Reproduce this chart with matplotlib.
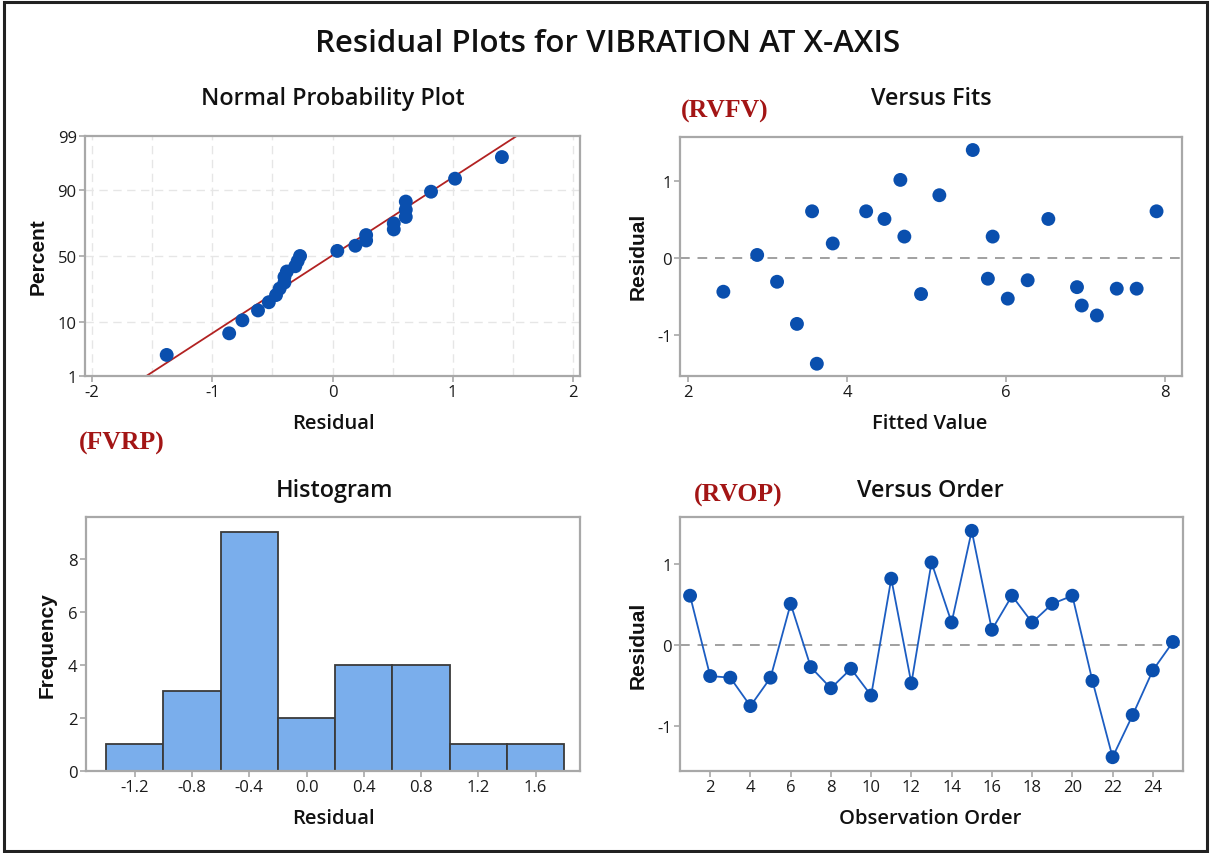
import matplotlib
matplotlib.use("Agg")
import matplotlib.pyplot as plt
import numpy as np
from statistics import NormalDist
from matplotlib.patches import Rectangle

# ---------------- data ----------------
observation_order = list(range(1, 26))
residuals = [0.61, -0.38, -0.40, -0.75, -0.40, 0.51, -0.27, -0.53, -0.29, -0.62,
             0.82, -0.47, 1.02, 0.28, 1.41, 0.19, 0.61, 0.28, 0.51, 0.61,
             -0.44, -1.38, -0.86, -0.31, 0.04]
fitted_values = [7.89, 6.89, 7.39, 7.14, 7.64, 6.53, 5.77, 6.02, 6.27, 6.95,
                 5.16, 4.93, 4.67, 5.83, 5.58, 3.82, 4.24, 4.72, 4.47, 3.56,
                 2.445, 3.62, 3.37, 3.12, 2.87]
hist_bin_edges = [-1.4, -1.0, -0.6, -0.2, 0.2, 0.6, 1.0, 1.4, 1.8]
percent_ticks = [1, 10, 50, 90, 99]
percent_grid = [10, 50, 90]
hist_xticks = [-1.2, -0.8, -0.4, 0.0, 0.4, 0.8, 1.2, 1.6]
hist_xticklabels = ["-1.2", "-0.8", "-0.4", "0.0", "0.4", "0.8", "1.2", "1.6"]

title = "Residual Plots for VIBRATION AT X-AXIS"

# ---------------- style ----------------
W, H = 1210, 854
plt.rcParams["font.family"] = ["Open Sans", "DejaVu Sans"]
plt.rcParams["axes.unicode_minus"] = False
fig = plt.figure(figsize=(W / 100, H / 100), dpi=100)
BLUE = "#0A4FAE"
SPINE = "#A8A8A8"
TXT = "#1a1a1a"
MS = 100


def px_ax(l, t, r, b):
    return fig.add_axes([l / W, 1 - b / H, (r - l) / W, (b - t) / H])


def style(ax):
    for s in ax.spines.values():
        s.set_color(SPINE)
        s.set_linewidth(1.6)
    ax.tick_params(direction="out", length=4, width=1.2, color=SPINE,
                   labelsize=12, labelcolor=TXT, pad=2)


def ftext(x, y, s, **kw):
    fig.text(x / W, 1 - y / H, s, ha="center", va="center", **kw)


# frame
fig.patches.append(Rectangle((4 / W, 2 / H), 1203 / W, 849 / H, transform=fig.transFigure,
                             fill=False, edgecolor="#222222", linewidth=2.2))

nd = NormalDist()

# ---------- Normal probability plot ----------
ax1 = px_ax(85, 137, 580, 377)
style(ax1)
r = np.array(residuals)
n = len(r)
rs = np.sort(r)
pp = (np.arange(1, n + 1) - 0.3) / (n + 0.4)
zz = np.array([nd.inv_cdf(p) for p in pp])
mu, sd = r.mean(), r.std(ddof=1)
zlim = nd.inv_cdf(0.99)
ax1.set_ylim(-zlim, zlim)
ax1.set_xlim(-2.06, 2.06)
for gx in np.arange(-2, 2.01, 0.5):
    ax1.axvline(gx, color="#E6E6E6", lw=1.0, ls=(0, (6, 4)), zorder=0)
for gp in percent_grid:
    ax1.axhline(nd.inv_cdf(gp / 100), color="#E6E6E6", lw=1.0, ls=(0, (6, 4)), zorder=0)
zl = np.array([-3, 3])
ax1.plot(mu + sd * zl, zl, color="#B22222", lw=1.3, zorder=2)
ax1.scatter(rs, zz, s=MS, color=BLUE, zorder=3, edgecolors="none")
ax1.set_yticks([nd.inv_cdf(p / 100) for p in percent_ticks])
ax1.set_yticklabels([str(p) for p in percent_ticks])
ax1.set_xticks([-2, -1, 0, 1, 2])

# ---------- Versus fits ----------
ax2 = px_ax(680, 138, 1182, 377)
style(ax2)
ax2.axhline(0, color="#A0A0A0", lw=1.4, ls=(0, (5, 4)), zorder=1)
ax2.scatter(fitted_values, residuals, s=MS, color=BLUE, zorder=3, edgecolors="none")
ax2.set_xlim(1.9, 8.21)
ax2.set_ylim(-1.54, 1.58)
ax2.set_xticks([2, 4, 6, 8])
ax2.set_yticks([-1, 0, 1])

# ---------- Histogram ----------
ax3 = px_ax(86, 518, 580, 772)
style(ax3)
ax3.hist(residuals, bins=hist_bin_edges, color="#7AAEEC", edgecolor="#3a3a3a", linewidth=1.3, zorder=2)
ax3.set_xlim(-1.54, 1.91)
ax3.set_ylim(0, 9.58)
ax3.set_xticks(hist_xticks)
ax3.set_xticklabels(hist_xticklabels)
ax3.set_yticks([0, 2, 4, 6, 8])

# ---------- Versus order ----------
ax4 = px_ax(680, 518, 1183, 772)
style(ax4)
ax4.axhline(0, color="#A0A0A0", lw=1.4, ls=(0, (5, 4)), zorder=1)
ax4.plot(observation_order, residuals, color="#1C5DC2", lw=1.3, zorder=2)
ax4.scatter(observation_order, residuals, s=MS, color=BLUE, zorder=3, edgecolors="none")
ax4.set_xlim(0.5, 25.5)
ax4.set_ylim(-1.55, 1.58)
ax4.set_xticks(list(range(2, 25, 2)))
ax4.set_yticks([-1, 0, 1])

# ---------------- texts ----------------
ftext(608, 44, title, fontsize=22.5, color="#111111", fontweight="semibold")
sub_kw = dict(fontsize=16.8, color="#111111", fontweight="semibold")
ftext(333, 99, "Normal Probability Plot", **sub_kw)
ftext(931, 99, "Versus Fits", **sub_kw)
ftext(334, 491, "Histogram", **sub_kw)
ftext(930, 491, "Versus Order", **sub_kw)

xl_kw = dict(fontsize=14.5, color="#111111", fontweight="semibold")
ftext(333, 424, "Residual", **xl_kw)
ftext(930, 424, "Fitted Value", **xl_kw)
ftext(333, 819, "Residual", **xl_kw)
ftext(930, 819, "Observation Order", **xl_kw)

yl_kw = dict(fontsize=15, color="#111111", fontweight="bold", rotation=90,
             family=["Liberation Sans", "DejaVu Sans"])
ftext(38, 257, "Percent", **yl_kw)
ftext(638, 256, "Residual", **yl_kw)
ftext(47, 645, "Frequency", **yl_kw)
ftext(638, 645, "Residual", **yl_kw)

red_kw = dict(fontsize=18.5, color="#A31515", fontweight="bold",
              family=["Liberation Serif", "DejaVu Serif"])
ftext(725, 111, "(RVFV)", **red_kw)
ftext(122, 443, "(FVRP)", **red_kw)
ftext(738, 495, "(RVOP)", **red_kw)

fig.savefig("out.png", dpi=100, facecolor="white")
